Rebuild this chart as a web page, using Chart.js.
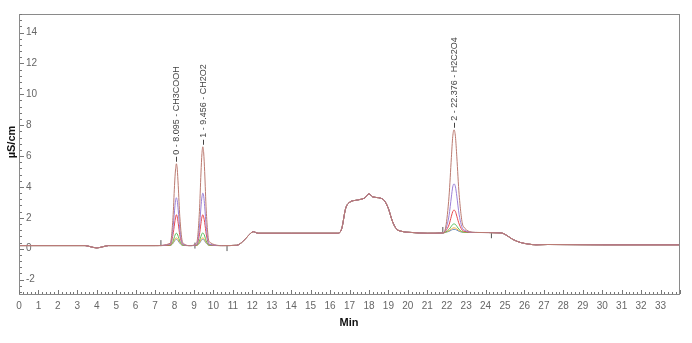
<!DOCTYPE html>
<html>
<head>
<meta charset="utf-8">
<script src="https://cdn.jsdelivr.net/npm/chart.js@4.4.1/dist/chart.umd.min.js"></script>
<style>
  html, body { margin: 0; padding: 0; background: #fff; }
  #wrap { width: 692px; height: 343px; }
</style>
</head>
<body>
<div id="wrap"><canvas id="chromChart" width="692" height="343"></canvas></div>
<script>
// Baseline drift shared by every injection (min, µS/cm)
const baseTimes  = [0, 3.4, 3.7, 4.0, 4.3, 4.6, 7.0, 8.8, 10.5, 11.2, 11.5, 11.8, 12.05, 12.3, 14.0, 16.4, 16.6, 16.8, 17.0, 17.4, 17.8, 18.0, 18.2, 18.5, 18.8, 19.0, 19.2, 19.4, 19.7, 20.2, 21.0, 21.8, 23.5, 24.8, 25.1, 25.4, 25.8, 26.2, 26.6, 27.2, 30.0, 34.0];
const baseValues = [0.2, 0.2, 0.12, 0.05, 0.12, 0.2, 0.2, 0.2, 0.2, 0.22, 0.45, 0.85, 1.1, 1.0, 1.0, 1.0, 1.3, 2.6, 3.0, 3.15, 3.3, 3.55, 3.35, 3.3, 3.1, 2.6, 1.8, 1.3, 1.12, 1.05, 1.0, 1.02, 1.05, 1.02, 0.85, 0.6, 0.4, 0.3, 0.25, 0.27, 0.25, 0.25];

// Sample times across the three peak windows
const peakTimes = [
  7.78, 7.92, 8.00, 8.05, 8.095, 8.14, 8.19, 8.27, 8.42,
  9.14, 9.28, 9.36, 9.41, 9.456, 9.50, 9.55, 9.63, 9.78,
  21.95, 22.12, 22.24, 22.31, 22.376, 22.45, 22.52, 22.64, 22.85
];

// Peak responses for each standard level
const brownPeaks  = [0.35, 2.0, 4.1, 5.1, 5.5, 5.15, 4.1, 2.1, 0.4,   0.4, 2.4, 4.9, 6.15, 6.6, 6.2, 5.0, 2.5, 0.45,   1.4, 3.4, 5.9, 7.25, 7.7, 7.25, 5.95, 3.5, 1.45];
const purplePeaks = [0.3, 1.3, 2.45, 3.1, 3.3, 3.1, 2.5, 1.3, 0.3,    0.3, 1.4, 2.7, 3.35, 3.6, 3.4, 2.75, 1.45, 0.3,   1.25, 2.15, 3.35, 4.0, 4.2, 4.0, 3.4, 2.2, 1.25];
const redPeaks    = [0.25, 0.9, 1.6, 2.0, 2.2, 2.05, 1.65, 0.9, 0.28, 0.25, 0.9, 1.65, 2.05, 2.2, 2.05, 1.7, 0.95, 0.27, 1.15, 1.55, 2.1, 2.4, 2.5, 2.4, 2.1, 1.6, 1.15];
const greenPeaks  = [0.22, 0.48, 0.78, 0.95, 1.0, 0.95, 0.8, 0.5, 0.23, 0.22, 0.5, 0.8, 0.97, 1.02, 0.97, 0.82, 0.5, 0.23, 1.08, 1.25, 1.45, 1.57, 1.6, 1.57, 1.45, 1.25, 1.08];
const orangePeaks = [0.21, 0.38, 0.57, 0.67, 0.7, 0.67, 0.58, 0.4, 0.22, 0.21, 0.38, 0.57, 0.67, 0.7, 0.67, 0.58, 0.4, 0.22, 1.07, 1.16, 1.27, 1.33, 1.35, 1.33, 1.27, 1.17, 1.07];
const bluePeaks   = [0.21, 0.34, 0.5, 0.58, 0.6, 0.58, 0.5, 0.35, 0.21, 0.21, 0.34, 0.5, 0.58, 0.6, 0.58, 0.5, 0.35, 0.21, 1.06, 1.12, 1.2, 1.24, 1.25, 1.24, 1.2, 1.12, 1.06];

// Peak identification
const peakRetention = [8.095, 9.456, 22.376];
const peakNames = ['0 - 8.095 - CH3COOH', '1 - 9.456 - CH2O2', '2 - 22.376 - H2C2O4'];

// Integration start/end marks
const markerTimes  = [7.3, 9.05, 10.7, 21.8, 24.3];
const markerValues = [0.36, 0.2, 0.04, 1.21, 0.87];

function buildTrace(peakValues) {
  const pts = baseTimes.map((t, i) => ({ x: t, y: baseValues[i] }));
  peakTimes.forEach((t, i) => pts.push({ x: t, y: peakValues[i] }));
  return pts.sort((a, b) => a.x - b.x);
}

function trace(values, color) {
  return {
    data: buildTrace(values),
    borderColor: color,
    borderWidth: 1,
    pointRadius: 0,
    fill: false,
    cubicInterpolationMode: 'monotone'
  };
}

const tickFont = { family: "'Liberation Sans Narrow', 'Liberation Sans', sans-serif", size: 10 };

// Frame, inner minor ticks, axis titles and peak names
const decorPlugin = {
  id: 'decor',
  afterDraw(chart) {
    const { ctx, chartArea: a, scales: { x, y } } = chart;
    ctx.save();
    ctx.strokeStyle = '#8a8a8a';
    ctx.lineWidth = 1;
    ctx.strokeRect(a.left + 0.5, a.top + 0.5, a.right - a.left - 1, a.bottom - a.top - 1);

    ctx.strokeStyle = '#777';
    ctx.beginPath();
    for (let i = 0; i <= 170; i++) {
      const px = Math.round(x.getPixelForValue(i / 5)) + 0.5;
      const len = i % 5 === 0 ? 4 : 2;
      ctx.moveTo(px, a.bottom - 1);
      ctx.lineTo(px, a.bottom - 1 - len);
    }
    for (let k = -7; k <= 38; k++) {
      const py = Math.round(y.getPixelForValue(k * 0.4)) + 0.5;
      const len = k % 5 === 0 ? 4 : 2;
      ctx.moveTo(a.left + 1, py);
      ctx.lineTo(a.left + 1 + len, py);
    }
    ctx.stroke();

    // axis titles
    ctx.fillStyle = '#111';
    ctx.font = "bold 11px 'Liberation Sans', Arial, sans-serif";
    ctx.textAlign = 'center';
    ctx.textBaseline = 'middle';
    ctx.fillText('Min', 349, 323);
    ctx.save();
    ctx.translate(12, 142);
    ctx.rotate(-Math.PI / 2);
    ctx.fillText('µS/cm', 0, 0);
    ctx.restore();

    // peak names above the apex of the largest trace
    const top = chart.data.datasets[0].data;
    ctx.font = "9px 'Liberation Sans', Arial, sans-serif";
    ctx.fillStyle = '#444';
    ctx.strokeStyle = '#444';
    peakRetention.forEach((rt, i) => {
      const apex = top.find(p => p.x === rt);
      const px = Math.round(x.getPixelForValue(rt)) + 0.5;
      const py = y.getPixelForValue(apex.y);
      ctx.beginPath();
      ctx.moveTo(px, py - 2);
      ctx.lineTo(px, py - 7);
      ctx.stroke();
      ctx.save();
      ctx.translate(px, py - 9);
      ctx.rotate(-Math.PI / 2);
      ctx.textAlign = 'left';
      ctx.textBaseline = 'middle';
      ctx.fillText(peakNames[i], 0, 0);
      ctx.restore();
    });
    ctx.restore();
  }
};

new Chart(document.getElementById('chromChart'), {
  type: 'line',
  data: {
    datasets: [
      trace(brownPeaks, '#bb7a70'),
      trace(purplePeaks, '#9b80d8'),
      trace(redPeaks, '#e5474d'),
      trace(greenPeaks, '#5cbd5c'),
      trace(orangePeaks, '#efb040'),
      trace(bluePeaks, '#6a90c8'),
      {
        type: 'scatter',
        data: markerTimes.map((t, i) => ({ x: t, y: markerValues[i] })),
        pointStyle: 'line',
        rotation: 90,
        radius: 3,
        borderColor: '#555',
        borderWidth: 1,
        backgroundColor: '#555'
      }
    ]
  },
  options: {
    responsive: false,
    animation: false,
    devicePixelRatio: 1,
    layout: { padding: { top: 14, right: 12, left: 0, bottom: 0 } },
    plugins: { legend: { display: false }, tooltip: { enabled: false } },
    scales: {
      x: {
        type: 'linear',
        min: 0,
        max: 34,
        grid: { display: false, drawTicks: false },
        border: { display: false },
        ticks: { stepSize: 1, padding: 5, color: '#666', font: tickFont, maxRotation: 0, autoSkip: false },
        afterBuildTicks: s => { s.ticks = s.ticks.filter(t => t.value < 34); },
        afterFit: s => { s.height = 48; }
      },
      y: {
        min: -3,
        max: 15.2,
        grid: { display: false, drawTicks: false },
        border: { display: false },
        ticks: { stepSize: 2, includeBounds: false, mirror: true, padding: 7, color: '#666', font: tickFont },
        afterFit: s => { s.width = 19; }
      }
    }
  },
  plugins: [decorPlugin]
});
</script>
</body>
</html>
